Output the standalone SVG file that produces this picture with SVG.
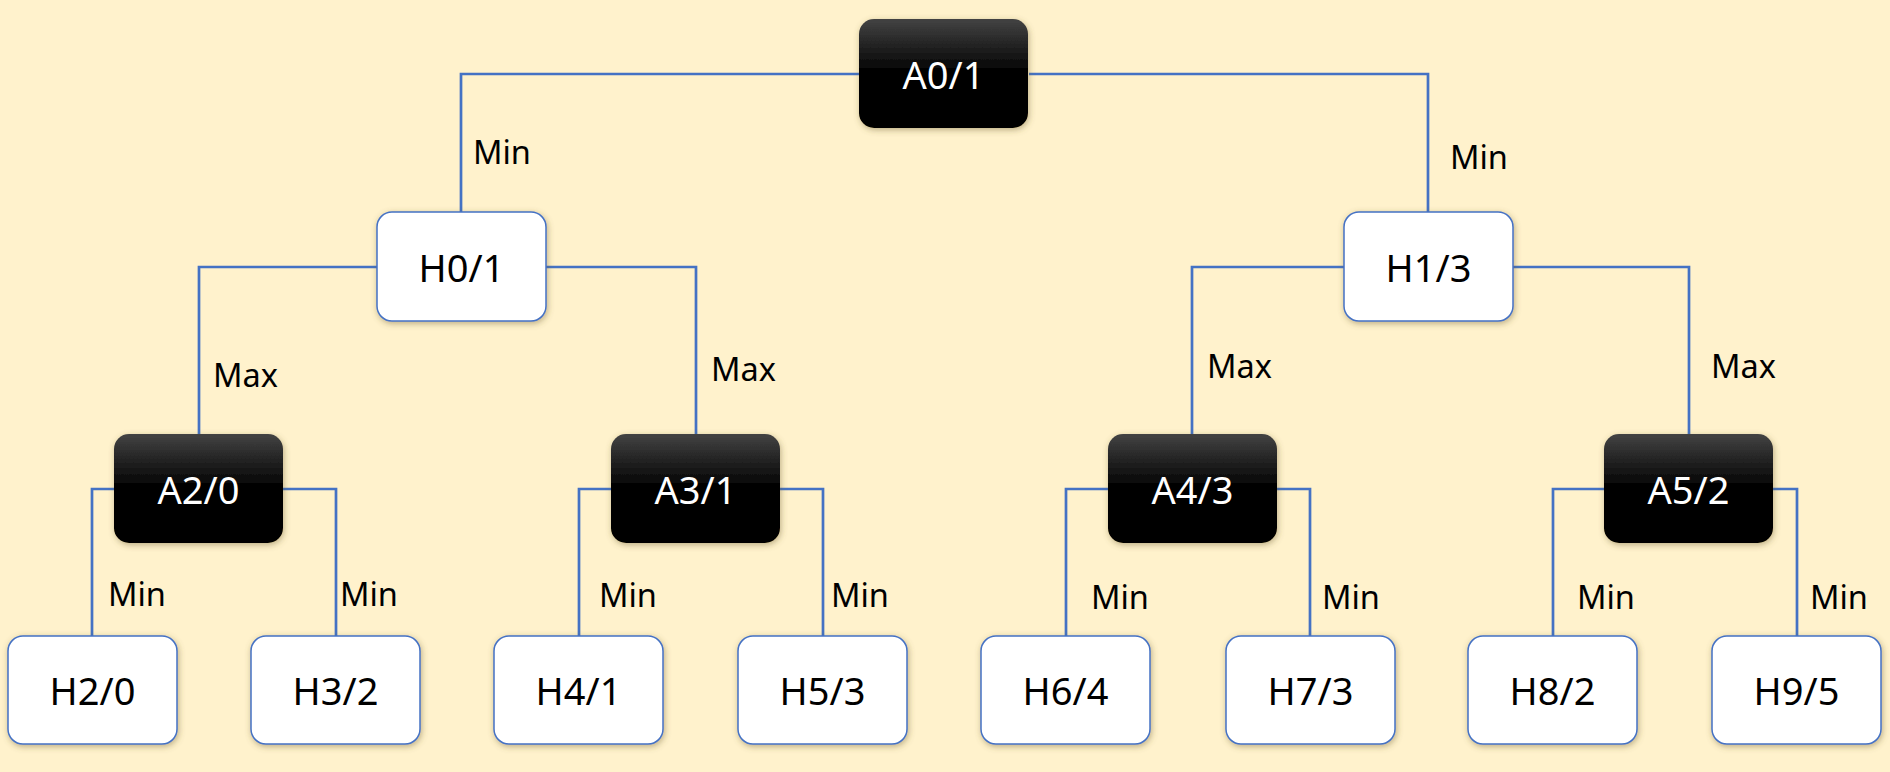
<svg xmlns="http://www.w3.org/2000/svg" width="1890" height="772" viewBox="0 0 1890 772">
<defs>
<linearGradient id="dark" x1="0" y1="0" x2="0" y2="1">
<stop offset="0" stop-color="#434343"/>
<stop offset="0.5" stop-color="#000000"/>
<stop offset="1" stop-color="#000000"/>
</linearGradient>
<filter id="sh" x="-20%" y="-20%" width="140%" height="150%">
<feDropShadow dx="1" dy="2" stdDeviation="3" flood-color="#6b5a2a" flood-opacity="0.45"/>
</filter>
</defs>
<style>
.conn{fill:none;stroke:#4472C4;stroke-width:2.7}
.h rect{fill:#ffffff;stroke:#4472C4;stroke-width:1.5;filter:url(#sh)}
.a rect{fill:url(#dark);filter:url(#sh)}
.h text{fill:#000000}
.a text{fill:#ffffff}
text{font-family:"Noto Sans","Open Sans","Liberation Sans",sans-serif}
.nt{font-size:38px;text-anchor:middle}
.lb{font-size:32.5px;fill:#000000}
</style>
<rect x="0" y="0" width="1890" height="772" fill="#FFF2CC"/>
<g id="connectors">
<path class="conn" d="M859,74 H461 V212"/>
<path class="conn" d="M1029,74 H1428 V212"/>
<path class="conn" d="M377,267 H199 V434"/>
<path class="conn" d="M546,267 H696 V434"/>
<path class="conn" d="M1344,267 H1192 V434"/>
<path class="conn" d="M1513,267 H1689 V434"/>
<path class="conn" d="M114,489 H92 V636"/>
<path class="conn" d="M283,489 H336 V636"/>
<path class="conn" d="M611,489 H579 V636"/>
<path class="conn" d="M780,489 H823 V636"/>
<path class="conn" d="M1108,489 H1066 V636"/>
<path class="conn" d="M1277,489 H1310 V636"/>
<path class="conn" d="M1604,489 H1553 V636"/>
<path class="conn" d="M1773,489 H1797 V636"/>
<text class="lb" x="473" y="164">Min</text>
<text class="lb" x="1450" y="169">Min</text>
<text class="lb" x="213" y="387">Max</text>
<text class="lb" x="711" y="381">Max</text>
<text class="lb" x="1207" y="378">Max</text>
<text class="lb" x="1711" y="378">Max</text>
<text class="lb" x="108" y="606">Min</text>
<text class="lb" x="340" y="606">Min</text>
<text class="lb" x="599" y="607">Min</text>
<text class="lb" x="831" y="607">Min</text>
<text class="lb" x="1091" y="609">Min</text>
<text class="lb" x="1322" y="609">Min</text>
<text class="lb" x="1577" y="609">Min</text>
<text class="lb" x="1810" y="609">Min</text>
</g>
<g id="A0" class="a"><rect x="859" y="19" width="169" height="109" rx="15"/><text class="nt" x="943.5" y="89">A0/1</text></g>
<g id="H0" class="h"><rect x="377" y="212" width="169" height="109" rx="15"/><text class="nt" x="461.5" y="282">H0/1</text></g>
<g id="H1" class="h"><rect x="1344" y="212" width="169" height="109" rx="15"/><text class="nt" x="1428.5" y="282">H1/3</text></g>
<g id="A2" class="a"><rect x="114" y="434" width="169" height="109" rx="15"/><text class="nt" x="198.5" y="504">A2/0</text></g>
<g id="A3" class="a"><rect x="611" y="434" width="169" height="109" rx="15"/><text class="nt" x="695.5" y="504">A3/1</text></g>
<g id="A4" class="a"><rect x="1108" y="434" width="169" height="109" rx="15"/><text class="nt" x="1192.5" y="504">A4/3</text></g>
<g id="A5" class="a"><rect x="1604" y="434" width="169" height="109" rx="15"/><text class="nt" x="1688.5" y="504">A5/2</text></g>
<g id="H2" class="h"><rect x="8" y="636" width="169" height="108" rx="15"/><text class="nt" x="92.5" y="705">H2/0</text></g>
<g id="H3" class="h"><rect x="251" y="636" width="169" height="108" rx="15"/><text class="nt" x="335.5" y="705">H3/2</text></g>
<g id="H4" class="h"><rect x="494" y="636" width="169" height="108" rx="15"/><text class="nt" x="578.5" y="705">H4/1</text></g>
<g id="H5" class="h"><rect x="738" y="636" width="169" height="108" rx="15"/><text class="nt" x="822.5" y="705">H5/3</text></g>
<g id="H6" class="h"><rect x="981" y="636" width="169" height="108" rx="15"/><text class="nt" x="1065.5" y="705">H6/4</text></g>
<g id="H7" class="h"><rect x="1226" y="636" width="169" height="108" rx="15"/><text class="nt" x="1310.5" y="705">H7/3</text></g>
<g id="H8" class="h"><rect x="1468" y="636" width="169" height="108" rx="15"/><text class="nt" x="1552.5" y="705">H8/2</text></g>
<g id="H9" class="h"><rect x="1712" y="636" width="169" height="108" rx="15"/><text class="nt" x="1796.5" y="705">H9/5</text></g>
</svg>
